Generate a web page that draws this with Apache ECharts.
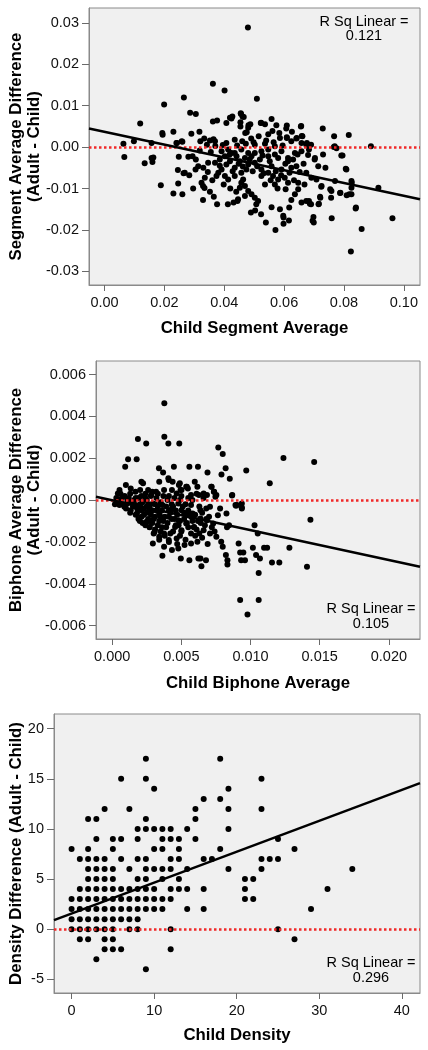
<!DOCTYPE html>
<html>
<head>
<meta charset="utf-8">
<script src="https://cdn.jsdelivr.net/npm/echarts@6/dist/echarts.min.js"></script>
<style>
html,body{margin:0;padding:0;background:#fff;}
#c{width:428px;height:1050px;}
</style>
</head>
<body>
<div id="c"></div>
<script>
// ---------- Panel 1: Segment average ----------
const segmentPoints = [
[0.0479,0.0289],[0.0362,0.0153],[0.0401,0.0137],[0.0509,0.0117],[0.0265,0.0120],[0.0199,0.0103],
[0.0286,0.0083],[0.0305,0.0080],[0.0119,0.0057],[0.0362,0.0062],[0.0376,0.0064],[0.0407,0.0058],
[0.0424,0.0069],[0.0456,0.0080],[0.0465,0.0073],[0.0454,0.0060],[0.0454,0.0050],[0.0480,0.0047],
[0.0487,0.0055],[0.0475,0.0036],[0.0522,0.0058],[0.0536,0.0055],[0.0558,0.0068],[0.0574,0.0053],
[0.0561,0.0039],[0.0547,0.0031],[0.0609,0.0052],[0.0656,0.0050],[0.0661,0.0026],[0.0729,0.0045],
[0.0767,0.0026],[0.0816,0.0029],[0.0890,0.0002],[0.0193,0.0034],[0.0230,0.0037],[0.0290,0.0032],
[0.0317,0.0037],[0.0063,0.0008],[0.0098,0.0014],[0.0157,0.0010],[0.0240,0.0010],[0.0260,0.0013],
[0.0333,0.0021],[0.0352,0.0016],[0.0369,0.0014],[0.0407,0.0010],[0.0435,0.0018],[0.0460,0.0014],
[0.0490,0.0021],[0.0502,0.0006],[0.0536,0.0008],[0.0569,0.0002],[0.0586,0.0022],[0.0609,0.0024],
[0.0624,0.0014],[0.0641,0.0021],[0.0658,0.0010],[0.0674,0.0006],[0.0683,-0.0006],[0.0703,-0.0026],
[0.0769,0.0002],[0.0775,-0.0003],[0.0730,-0.0018],[0.0791,-0.0020],[0.0066,-0.0024],[0.0163,-0.0025],
[0.0766,0.0000],[0.0806,-0.0052],[0.0134,-0.0039],[0.0160,-0.0036],
[0.0419,0.0071],[0.0427,0.0074],[0.0455,0.0082],[0.0461,0.0074],[0.0481,0.0053],[0.0470,0.0034],
[0.0523,0.0059],[0.0584,0.0034],[0.0607,0.0045],[0.0609,0.0022],[0.0626,0.0037],[0.0642,0.0022],
[0.0657,0.0051],[0.0659,0.0027],[0.0676,0.0010],[0.0690,0.0006],[0.0320,0.0014],[0.0342,0.0006],
[0.0364,0.0019],[0.0242,0.0010],[0.0258,0.0014],[0.0194,0.0030],
[0.0188,-0.0092],[0.0230,-0.0112],[0.0245,-0.0055],[0.0264,-0.0063],[0.0283,-0.0068],[0.0329,-0.0128],
[0.0329,-0.0094],[0.0334,-0.0099],[0.0376,-0.0138],[0.0412,-0.0138],[0.0431,-0.0134],[0.0444,-0.0130],
[0.0489,-0.0158],[0.0503,-0.0153],[0.0539,-0.0182],[0.0571,-0.0200],[0.0598,-0.0185],[0.0598,-0.0170],
[0.0616,-0.0177],[0.0695,-0.0178],[0.0698,-0.0169],[0.0759,-0.0172],[0.0859,-0.0198],[0.0823,-0.0252],
[0.0962,-0.0172],[0.0915,-0.0098],[0.0840,-0.0146],[0.0818,-0.0114],[0.0809,-0.0116],[0.0787,-0.0111],
[0.0757,-0.0122],[0.0754,-0.0102],[0.0720,-0.0120],[0.0715,-0.0138],[0.0683,-0.0130],[0.0690,-0.0138],
[0.0724,-0.0096],[0.0770,-0.0082],[0.0826,-0.0086],
[0.0157,-0.0026],[0.0246,-0.0088],[0.0260,-0.0114],[0.0248,-0.0023],[0.0280,-0.0023],[0.0294,-0.0022],
[0.0268,-0.0062],[0.0304,-0.0054],[0.0313,-0.0046],[0.0330,-0.0050],[0.0335,-0.0074],[0.0346,-0.0038],
[0.0324,-0.0086],[0.0374,-0.0070],[0.0380,-0.0062],[0.0391,-0.0054],[0.0402,-0.0070],[0.0413,-0.0078],
[0.0407,-0.0042],[0.0419,-0.0034],[0.0435,-0.0070],[0.0435,-0.0050],[0.0446,-0.0126],[0.0457,-0.0086],
[0.0463,-0.0078],[0.0469,-0.0094],[0.0480,-0.0106],[0.0491,-0.0114],[0.0469,-0.0118],[0.0502,-0.0122],
[0.0507,-0.0138],[0.0513,-0.0130],[0.0523,-0.0162],[0.0558,-0.0145],[0.0586,-0.0150],[0.0597,-0.0166],
[0.0617,-0.0146],[0.0624,-0.0128],[0.0636,-0.0114],[0.0647,-0.0102],[0.0658,-0.0134],[0.0674,-0.0130],
[0.0686,-0.0137],[0.0699,-0.0182],[0.0716,-0.0137],[0.0721,-0.0122],[0.0725,-0.0094],[0.0758,-0.0106],
[0.0788,-0.0110],[0.0825,-0.0082],[0.0825,-0.0098],[0.0825,-0.0114],[0.0808,-0.0054],[0.0839,-0.0148],
[0.0738,-0.0050],[0.0795,-0.0020],[0.0680,-0.0019],[0.0702,-0.0030],[0.0714,-0.0046],[0.0674,-0.0062],
[0.0691,-0.0074],[0.0708,-0.0078],[0.0613,-0.0034],[0.0624,-0.0050],[0.0641,-0.0046],[0.0602,-0.0074],
[0.0613,-0.0086],[0.0647,-0.0086],[0.0569,-0.0090],[0.0563,-0.0070],[0.0580,-0.0078],[0.0547,-0.0062],
[0.0524,-0.0054],[0.0558,-0.0046],[0.0591,-0.0054],[0.0580,-0.0026],[0.0547,-0.0022],[0.0519,-0.0030],
[0.0502,-0.0038],[0.0524,-0.0070],[0.0536,-0.0090],[0.0457,-0.0062],[0.0474,-0.0054],[0.0480,-0.0042],
[0.0452,-0.0034],[0.0469,-0.0026],[0.0441,-0.0022],[0.0491,-0.0022],[0.0502,-0.0014],[0.0424,-0.0014],
[0.0402,-0.0022],[0.0385,-0.0030],[0.0369,-0.0038],[0.0391,-0.0010],[0.0413,-0.0006],[0.0435,-0.0014],
[0.0457,-0.0006],[0.0480,-0.0014],[0.0524,-0.0010],[0.0547,-0.0006],[0.0569,-0.0018],[0.0591,-0.0010],
[0.0613,-0.0026],[0.0636,-0.0014],[0.0658,-0.0010],
[0.0395,0.0005],[0.0418,-0.0018],[0.0443,0.0004],[0.0448,-0.0040],[0.0462,-0.0047],[0.0472,0.0008],
[0.0485,-0.0030],[0.0495,-0.0058],[0.0498,0.0012],[0.0510,-0.0046],[0.0515,0.0026],[0.0528,-0.0020],
[0.0532,-0.0063],[0.0540,0.0016],[0.0552,-0.0034],[0.0555,-0.0080],[0.0565,0.0012],[0.0572,-0.0058],
[0.0578,-0.0100],[0.0590,-0.0068],[0.0595,0.0004],[0.0604,-0.0040],[0.0605,-0.0102],[0.0618,-0.0062],
[0.0630,-0.0030],[0.0633,-0.0080],[0.0645,-0.0018],[0.0652,-0.0060],[0.0665,-0.0040],[0.0668,-0.0090],
[0.0385,-0.0045],[0.0370,0.0003],[0.0355,-0.0012],[0.0345,-0.0060],[0.0360,-0.0080],[0.0398,-0.0090],
[0.0420,-0.0100],[0.0428,-0.0058],[0.0440,-0.0108],[0.0452,-0.0098],[0.0305,-0.0030],[0.0318,-0.0008],
[0.0296,-0.0100],[0.0352,-0.0108],[0.0365,-0.0120]
];
const segmentFit = [[-0.0052,0.0045],[0.1054,-0.0126]];
const segmentXTicks = [0,0.02,0.04,0.06,0.08,0.10];
const segmentYTicks = [-0.03,-0.02,-0.01,0,0.01,0.02,0.03];
const segmentRange = {xMin:-0.0052,xMax:0.1054,yMin:-0.0333,yMax:0.0336};
const segmentR2 = '0.121';

// ---------- Panel 2: Biphone average ----------
const biphonePoints = [
[0.00377,0.00463],[0.00377,0.00303],[0.00186,0.00292],[0.00246,0.00271],[0.00406,0.00271],[0.00485,0.00271],
[0.00767,0.00252],[0.00799,0.00220],[0.01238,0.00201],[0.01460,0.00182],[0.01139,0.00081],[0.00969,0.00142],
[0.00115,0.00195],[0.00177,0.00195],[0.00094,0.00160],[0.00338,0.00152],[0.00368,0.00132],[0.00446,0.00160],
[0.00558,0.00160],[0.00620,0.00160],[0.00689,0.00132],[0.00820,0.00152],[0.00790,0.00123],[0.00850,0.00102],
[0.00597,0.00088],[0.00406,0.00104],[0.00437,0.00088],[0.00482,0.00072],[0.00540,0.00064],[0.00494,0.00048],
[0.00211,0.00088],[0.00223,0.00080],[0.00340,0.00088],[0.00716,0.00064],[0.00735,0.00040],[0.00746,0.00016],
[0.00866,0.00022],[0.00895,-0.00027],[0.00937,-0.00016],[0.00937,-0.00040],[0.00826,-0.00064],[0.01433,-0.00094],
[0.00409,0.00096],[0.00489,0.00080],[0.00535,0.00064],[0.00616,0.00064],[0.00661,0.00032],[0.00719,0.00064],
[0.00737,0.00040],[0.00753,0.00024],[0.00868,0.00024],[0.00902,-0.00024],
[0.00053,0.00048],[0.00041,0.00032],[0.00099,0.00072],[0.00134,0.00056],[0.00168,0.00040],[0.00202,0.00048],
[0.00260,0.00048],[0.00282,0.00024],[0.00317,0.00040],[0.00375,0.00048],[0.00432,0.00048],[0.00466,0.00032],
[0.00501,0.00048],[0.00547,0.00056],[0.00570,0.00024],[0.00627,0.00024],[0.00685,0.00024],
[0.01029,-0.00120],[0.01052,-0.00160],[0.00914,-0.00207],[0.01017,-0.00228],[0.01098,-0.00228],[0.01120,-0.00228],
[0.01281,-0.00228],[0.00925,-0.00250],[0.00948,-0.00250],[0.00822,-0.00263],[0.00833,-0.00287],[0.00932,-0.00287],
[0.00960,-0.00287],[0.01040,-0.00263],[0.01068,-0.00279],[0.01155,-0.00298],[0.01208,-0.00298],[0.00833,-0.00308],
[0.01059,-0.00348],[0.01408,-0.00319],[0.00925,-0.00478],[0.01059,-0.00478],[0.00978,-0.00547],
[0.00363,-0.00266],[0.00496,-0.00279],[0.00558,-0.00287],[0.00623,-0.00279],[0.00638,-0.00279],[0.00678,-0.00287],
[0.00645,-0.00316],[0.00799,-0.00223],[0.00845,-0.00120],[0.00764,-0.00072],[0.00581,-0.00064],[0.00891,-0.00024],
[0.00937,-0.00035],
[0.00294,-0.00207],[0.00375,-0.00223],[0.00432,-0.00239],[0.00478,-0.00231],[0.00523,-0.00215],[0.00570,-0.00207],
[0.00616,-0.00199],[0.00466,-0.00183],[0.00409,-0.00191],[0.00375,-0.00160],[0.00340,-0.00175],[0.00306,-0.00152],
[0.00271,-0.00128],[0.00248,-0.00104],[0.00213,-0.00080],[0.00179,-0.00064],[0.00134,-0.00048],[0.00088,-0.00032],
[0.00053,-0.00024],[0.00110,-0.00016],[0.00202,-0.00032],[0.00271,-0.00048],[0.00340,-0.00064],[0.00409,-0.00080],
[0.00478,-0.00096],[0.00535,-0.00112],[0.00592,-0.00128],[0.00661,-0.00144],[0.00707,-0.00160],[0.00753,-0.00175],
[0.00788,-0.00199],[0.00570,-0.00160],[0.00501,-0.00144],[0.00455,-0.00128],[0.00685,-0.00096],[0.00730,-0.00112],
[0.00638,-0.00088],[0.00547,-0.00072],[0.00501,-0.00048],[0.00432,-0.00040],[0.00363,-0.00024],[0.00294,-0.00016],
[0.00248,-0.00032],[0.00156,-0.00024],[0.00478,-0.00016],[0.00570,-0.00024],[0.00638,-0.00048],[0.00707,-0.00032],
[0.0025,-0.0006],[0.0028,-0.0007],[0.0030,-0.0009],[0.0032,-0.0005],[0.0035,-0.0008],[0.0037,-0.0010],
[0.0033,-0.0012],[0.0029,-0.0011],[0.0026,-0.0009],[0.0023,-0.0007],[0.0021,-0.0005],[0.0018,-0.0004],
[0.0016,-0.0002],[0.0014,-0.0001],[0.0012,0.0001],[0.0009,0.0002],[0.0007,0.0001],[0.0005,0.0000],
[0.0004,-0.0001],[0.0008,-0.0002],[0.0019,-0.0009],[0.0022,-0.0011],[0.0027,-0.0013],[0.0031,-0.0014],
[0.0036,-0.0013],[0.0040,-0.0011],[0.0042,-0.0006],[0.0045,-0.0009],[0.0048,-0.0012],[0.0052,-0.0009],
[0.0055,-0.0013],[0.0058,-0.0010],[0.0061,-0.0014],[0.0064,-0.0011],[0.0067,-0.0012],[0.0044,-0.0015],
[0.0049,-0.0017],[0.0038,-0.0017],[0.0034,-0.0019],[0.0041,-0.0020],[0.0053,-0.0019],[0.0060,-0.0017],
[0.0065,-0.0018],[0.0069,-0.0021],[0.0047,-0.0021],[0.0027,-0.0003],[0.0031,-0.0002],[0.0035,-0.0001],
[0.0039,-0.0003],[0.0043,-0.0002],[0.0046,-0.0005],[0.0051,-0.0003],[0.0055,-0.0005],[0.0060,-0.0007],
[0.0065,-0.0006],[0.0070,-0.0008],[0.0013,0.0003],[0.0017,0.0001],[0.0021,0.0002],[0.0024,0.0001],
[0.0028,0.0002],[0.0032,0.0001],[0.0037,0.0002],[0.0041,0.0002],[0.0045,0.0001],[0.0050,0.0002],
[0.0055,0.0001],[0.0061,0.0003],[0.0066,0.0001],[0.0078,-0.0004],[0.0083,-0.0013],[0.0074,-0.0015],
[0.0029,0.0004],[0.0033,0.0003],[0.0024,0.0003],
[0.0010,-0.0004],[0.0013,-0.0006],[0.0015,-0.0003],[0.0017,-0.0007],[0.0020,-0.0002],[0.0020,-0.0010],
[0.0023,-0.0004],[0.0024,-0.0012],[0.0026,-0.0002],[0.0027,-0.0010],[0.0029,-0.0005],[0.0030,-0.0016],
[0.0031,-0.0008],[0.0033,-0.0003],[0.0034,-0.0010],[0.0035,-0.0015],[0.0036,-0.0005],[0.0038,-0.0008],
[0.0039,-0.0013],[0.0041,-0.0005],[0.0042,-0.0016],[0.0043,-0.0009],[0.0046,-0.0012],[0.0047,-0.0007],
[0.0049,-0.0010],[0.0050,-0.0015],[0.0052,-0.0006],[0.0054,-0.0011],[0.0057,-0.0008],[0.0059,-0.0013],
[0.0062,-0.0010],[0.0063,-0.0016],[0.0068,-0.0009],[0.0072,-0.0013],[0.0016,0.0000],[0.0019,0.0001],
[0.0022,-0.0001],[0.0025,0.0000],[0.0011,0.0000],[0.0006,0.0003],[0.0003,0.0001],[0.0002,-0.0002],
[0.0040,0.0000],[0.0044,-0.0003],[0.0049,0.0000],[0.0053,-0.0002],[0.0058,0.0000],[0.0063,-0.0003],
[0.0068,-0.0004]
];
const biphoneFit = [[-0.00117,0.00016],[0.02225,-0.00319]];
const biphoneXTicks = [0,0.005,0.010,0.015,0.020];
const biphoneYTicks = [-0.006,-0.004,-0.002,0,0.002,0.004,0.006];
const biphoneRange = {xMin:-0.00117,xMax:0.02225,yMin:-0.00664,yMax:0.00665};
const biphoneR2 = '0.105';

// ---------- Panel 3: Density (rows: difference value -> child density values) ----------
const densityRows = [
[17,[9,18]],
[15,[6,9,23]],
[14,[10,19]],
[13,[16,18]],
[12,[4,7,15,19,23]],
[11,[2,3,9,15]],
[10,[8,9,10,11,12,14,19]],
[9,[3,5,6,8,11,12,13,15,25]],
[8,[0,2,5,10,11,13,18,27]],
[7,[1,2,3,4,6,8,9,12,13,16,17,23,24,25]],
[6,[2,3,4,5,7,9,10,11,12,14,19,23,34]],
[5,[2,3,4,5,8,9,11,13,21,22]],
[4,[1,2,3,4,5,6,7,8,9,10,12,13,14,16,21,31]],
[3,[0,1,2,3,4,5,6,7,8,9,10,11,12,21,22]],
[2,[0,1,2,3,4,5,6,7,8,9,10,11,14,16,29]],
[1,[0,1,2,3,4,5,6,7,8]],
[0,[0,1,2,3,4,5,7,8,12,25]],
[-1,[1,2,4,5,27]],
[-2,[4,5,6,12]],
[-3,[3]],
[-4,[9]]
];
const densityFit = [[-2.13,0.9],[42.2,14.57]];
const densityXTicks = [0,10,20,30,40];
const densityYTicks = [-5,0,5,10,15,20];
const densityRange = {xMin:-2.13,xMax:42.2,yMin:-6.37,yMax:21.47};
const densityR2 = '0.296';

const densityPoints = [];
densityRows.forEach(([y, xs]) => xs.forEach(x => densityPoints.push([x, y])));

const FONT = '"Liberation Sans", Arial, Helvetica, sans-serif';
const grids = [
  {left:89, top:8, width:331, height:277},
  {left:96, top:361, width:324, height:278},
  {left:54, top:714, width:366, height:279}
];
const panels = [
  {pts:segmentPoints, fit:segmentFit, xt:segmentXTicks, yt:segmentYTicks, r:segmentRange, xd:2, yd:2},
  {pts:biphonePoints, fit:biphoneFit, xt:biphoneXTicks, yt:biphoneYTicks, r:biphoneRange, xd:3, yd:3},
  {pts:densityPoints, fit:densityFit, xt:densityXTicks, yt:densityYTicks, r:densityRange, xd:0, yd:0}
];

function axisCommon(ticks, dec, len, margin) {
  return {
    axisLine:{show:true, onZero:false, lineStyle:{color:'#8a8a8a', width:1}},
    axisTick:{show:true, customValues:ticks, length:len, lineStyle:{color:'#6a6a6a', width:1}},
    axisLabel:{show:true, customValues:ticks, margin:margin, color:'#111', fontSize:14.5, fontFamily:FONT,
      formatter: v => Number(v).toFixed(dec)},
    splitLine:{show:false}
  };
}

const option = {
  animation:false,
  backgroundColor:'#fff',
  grid: grids.map(g => Object.assign({show:true, backgroundColor:'#f0f0f0', borderColor:'#8a8a8a', borderWidth:1}, g)),
  xAxis: panels.map((p,i) => Object.assign({type:'value', gridIndex:i, min:p.r.xMin, max:p.r.xMax, position:'bottom'},
      axisCommon(p.xt, p.xd, 6, 10))),
  yAxis: panels.map((p,i) => Object.assign({type:'value', gridIndex:i, min:p.r.yMin, max:p.r.yMax, position:'left'},
      axisCommon(p.yt, p.yd, 7, 10))),
  series: [],
  graphic: []
};

panels.forEach((p,i) => {
  option.series.push({
    type:'scatter', xAxisIndex:i, yAxisIndex:i, data:p.pts, symbol:'circle', symbolSize:6,
    itemStyle:{color:'#000', opacity:1}, z:2, large:false,
    markLine:{silent:true, symbol:['none','none'], label:{show:false},
      lineStyle:{color:'#f02828', type:[2.5,2.5], width:2.5, opacity:1}, data:[{yAxis:0}], z:3}
  });
  option.series.push({
    type:'line', xAxisIndex:i, yAxisIndex:i, data:p.fit, symbol:'none',
    lineStyle:{color:'#000', width:2.5}, z:4
  });
});

function txt(x, y, text, font, rot, lh) {
  return {type:'text', x:x, y:y, rotation:rot||0, z:10,
    style:{text:text, font:font, fill:'#000', align:'center', verticalAlign:'middle', lineHeight:lh||18}};
}
const BOLD = 'bold 16.8px ' + FONT;
const REG = '14.5px ' + FONT;
option.graphic = [
  txt(254.5, 328, 'Child Segment Average', BOLD),
  txt(25.5, 146.5, 'Segment Average Difference\n(Adult - Child)', BOLD, Math.PI/2, 17.5),
  txt(364, 21.7, 'R Sq Linear =', REG),
  txt(364, 36.3, segmentR2, REG),

  txt(258, 683, 'Child Biphone Average', BOLD),
  txt(25.5, 500, 'Biphone Average Difference\n(Adult - Child)', BOLD, Math.PI/2, 17.5),
  txt(371, 609.3, 'R Sq Linear =', REG),
  txt(371, 624.3, biphoneR2, REG),

  txt(237, 1035, 'Child Density', BOLD),
  txt(16.5, 853.5, 'Density Difference (Adult - Child)', BOLD, Math.PI/2),
  txt(371, 963.3, 'R Sq Linear =', REG),
  txt(371, 978.3, densityR2, REG)
];

const chart = echarts.init(document.getElementById('c'), null, {renderer:'canvas'});
chart.setOption(option);
</script>
</body>
</html>
